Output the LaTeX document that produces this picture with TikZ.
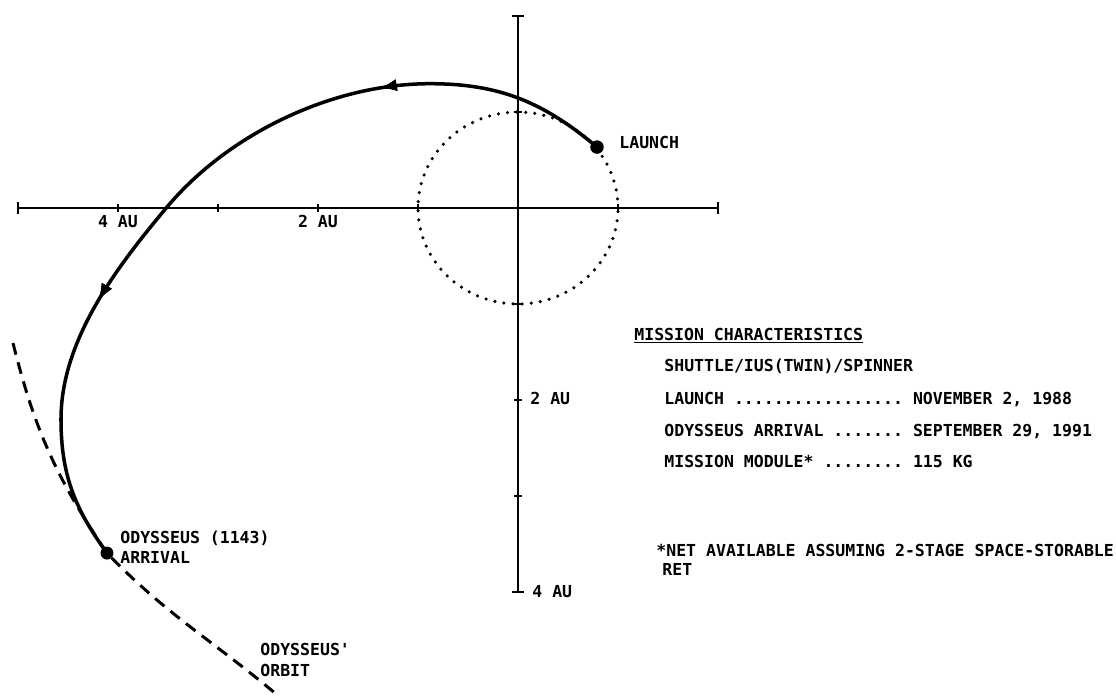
\documentclass[tikz,border=0pt]{standalone}
\usepackage{fontspec}
\setmonofont{DejaVu Sans Mono}
\usetikzlibrary{decorations.markings,arrows.meta}
\begin{document}
\begin{tikzpicture}[x=2cm,y=1.92cm,line width=1.6pt,
  txt/.style={font=\ttfamily\bfseries\fontsize{9.4}{11}\selectfont,inner sep=0pt,anchor=base west},
  midarrow/.style={postaction={decorate},decoration={markings,
    mark=at position #1 with {\arrow{Latex[length=3.6mm,width=2.4mm]}}}}]
\useasboundingbox (-5.18,2.167) rectangle (5.98,-5.115);
\draw (-5,0) -- (2,0);
\draw (0,2) -- (0,-4);
\foreach \x in {-4,...,1} \draw (\x,0) ++(0,-0.045) -- ++(0,0.09);
\foreach \x in {-5,2} \draw (\x,0) ++(0,-0.065) -- ++(0,0.13);
\foreach \y in {1,-1,-2,-3} \draw (0,\y) ++(-0.04,0) -- ++(0.08,0);
\foreach \y in {2,-4} \draw (0,\y) ++(-0.06,0) -- ++(0.12,0);
\draw[line width=2pt,line cap=round,dash pattern=on 0pt off 5.2pt] (0,0) ellipse [x radius=1,y radius=1];
\coordinate (launch) at (0.79,0.635);
\coordinate (crest) at (-0.88,1.295);
\coordinate (cross) at (-3.51,0.01);
\coordinate (far) at (-4.57,-2.2);
\coordinate (arrival) at (-4.11,-3.594);
\draw[line width=2pt,midarrow=0.27,midarrow=0.69] (launch) to[out=140,in=0] (crest)
  to[out=180,in=50,looseness=0.85] (cross) to[out=230,in=90,looseness=0.85] (far)
  to[out=-90,in=126] (arrival);
\draw[line width=1.7pt,dash pattern=on 6.8pt off 4.5pt] (-5.05,-1.406) to[out=-76,in=124] (arrival)
  to[out=-46,in=140] (-2.41,-5.07);
\fill (launch) circle[radius=0.135cm];
\fill (arrival) circle[radius=0.13cm];
\node[txt] (launchlbl) at (1.00,0.625) {LAUNCH};
\node[txt] (arrlbl) at (-3.99,-3.49) {ODYSSEUS (1143)};
\node[txt] (arrlbl2) at (-3.99,-3.70) {ARRIVAL};
\node[txt] (orbitlbl) at (-2.59,-4.66) {ODYSSEUS'};
\node[txt] (orbitlbl2) at (-2.59,-4.885) {ORBIT};
\node[txt,anchor=base] (h4) at (-4,-0.198) {4 AU};
\node[txt,anchor=base] (h2) at (-2,-0.198) {2 AU};
\node[txt] (v2) at (0.11,-2.05) {2 AU};
\node[txt] (v4) at (0.13,-4.06) {4 AU};
\node[txt] (mc) at (1.15,-1.375) {\underline{MISSION CHARACTERISTICS}};
\node[txt] (vehicle) at (1.45,-1.708) {SHUTTLE/IUS(TWIN)/SPINNER};
\node[txt] (launchdate) at (1.45,-2.042) {LAUNCH ................. NOVEMBER 2, 1988};
\node[txt] (arrdate) at (1.45,-2.375) {ODYSSEUS ARRIVAL ....... SEPTEMBER 29, 1991};
\node[txt] (module) at (1.45,-2.708) {MISSION MODULE* ........ 115 KG};
\node[txt] (note) at (1.37,-3.635) {*NET AVAILABLE ASSUMING 2-STAGE SPACE-STORABLE};
\node[txt] (note2) at (1.43,-3.823) {RET};
\end{tikzpicture}
\end{document}
